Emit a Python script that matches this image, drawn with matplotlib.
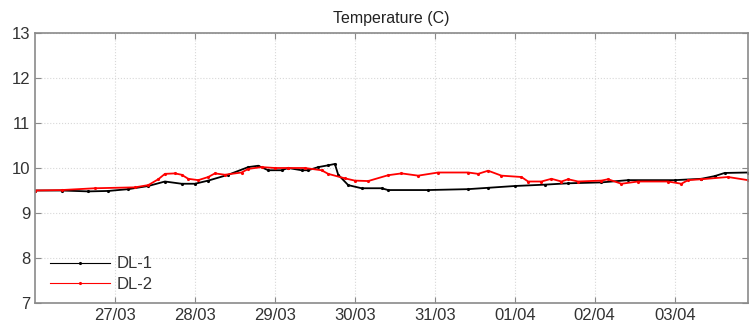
import matplotlib
matplotlib.use("Agg")
import matplotlib.pyplot as plt

# hours since 26/03 00:00
dl1_hours = [0, 8, 16, 22, 28, 34, 39, 44, 48, 52, 58, 64, 67, 70, 74, 76, 80, 82, 85, 88, 90, 91,
             94, 98, 104, 106, 118, 130, 136, 144, 153, 160, 170, 178, 192, 200, 204, 207, 214]
dl1_temp = [9.50, 9.50, 9.48, 9.49, 9.53, 9.60, 9.70, 9.65, 9.65, 9.72, 9.85, 10.02, 10.05, 9.95,
            9.95, 10.00, 9.95, 9.95, 10.02, 10.06, 10.09, 9.85, 9.62, 9.55, 9.55, 9.51, 9.51, 9.53,
            9.56, 9.60, 9.63, 9.66, 9.68, 9.73, 9.73, 9.76, 9.82, 9.89, 9.90]

dl2_hours = [0, 8, 18, 30, 34, 37, 39, 42, 44, 46, 49, 52, 54, 57, 62, 64, 68, 72, 76, 81, 86, 88,
             93, 96, 100, 106, 110, 115, 121, 130, 133, 136, 140, 146, 148, 152, 155, 158, 160, 163,
             170, 172, 176, 181, 190, 194, 196, 200, 208, 214]
dl2_temp = [9.50, 9.51, 9.55, 9.57, 9.62, 9.75, 9.87, 9.88, 9.85, 9.76, 9.73, 9.80, 9.88, 9.85,
            9.90, 9.98, 10.02, 10.00, 10.00, 10.00, 9.95, 9.87, 9.77, 9.72, 9.71, 9.84, 9.88, 9.83,
            9.90, 9.90, 9.87, 9.94, 9.83, 9.80, 9.70, 9.70, 9.76, 9.70, 9.75, 9.70, 9.72, 9.75,
            9.65, 9.70, 9.70, 9.65, 9.73, 9.75, 9.80, 9.73]

tick_hours = [24, 48, 72, 96, 120, 144, 168, 192]
tick_labels = ["27/03", "28/03", "29/03", "30/03", "31/03", "01/04", "02/04", "03/04"]
y_ticks = [7, 8, 9, 10, 11, 12, 13]

plt.rcParams['font.family'] = ['Liberation Sans', 'DejaVu Sans']

fig = plt.figure(figsize=(7.49, 3.27), dpi=100)
ax = fig.add_axes([35/749, 24/327, 713/749, 270/327])

ax.plot(dl1_hours, dl1_temp, color='black', lw=1.3, marker='.', ms=2.5, label='DL-1')
ax.plot(dl2_hours, dl2_temp, color='red', lw=1.3, marker='.', ms=2.5, label='DL-2')

ax.set_xlim(0, 214)
ax.set_ylim(7, 13)
ax.set_xticks(tick_hours)
ax.set_xticklabels(tick_labels)
ax.set_yticks(y_ticks)
ax.grid(True, color='#d8d8d8', linestyle=':', linewidth=0.8)
for s in ax.spines.values():
    s.set_color('#8a8a8a')
    s.set_linewidth(1.2)
ax.tick_params(direction='in', length=4, top=True, right=True, colors='#8a8a8a',
               labelcolor='#333333', labelsize=12)
ax.set_title('Temperature (C)', fontsize=11.5, color='#222222', pad=7)

leg = ax.legend(loc='lower left', bbox_to_anchor=(0.006, 0.0), frameon=False, fontsize=12,
                handlelength=3.6, handletextpad=0.4, labelspacing=0.35, numpoints=1,
                borderaxespad=0.25)
for t in leg.get_texts():
    t.set_color('#333333')
for h in leg.get_lines():
    h.set_linewidth(0.8)

fig.savefig('out.png', dpi=100)
